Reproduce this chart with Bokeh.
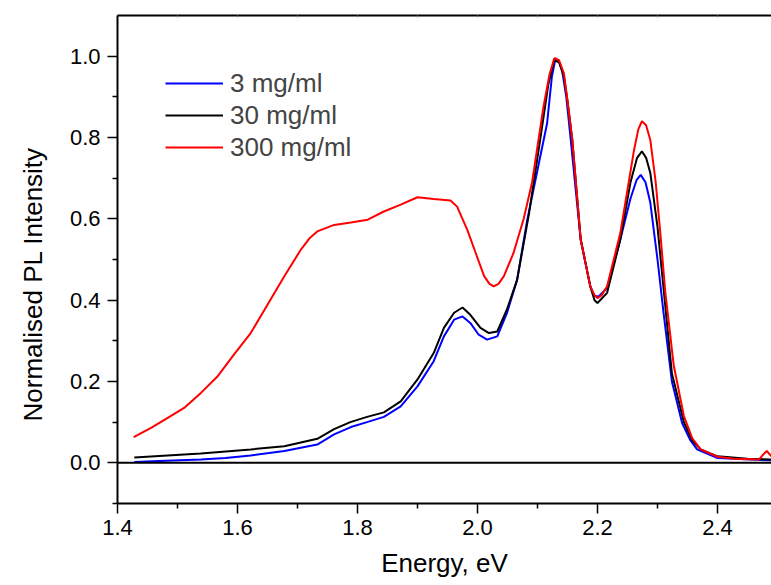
from bokeh.plotting import figure
from bokeh.models import (Range1d, LinearAxis, FixedTicker, NumeralTickFormatter,
                          Span, Legend, LegendItem, Title)
from bokeh.embed import file_html
from bokeh.resources import INLINE

# ---- data ----
energy_3 = [1.428, 1.48, 1.539, 1.58, 1.622, 1.678, 1.733, 1.761, 1.789, 1.816,
            1.844, 1.872, 1.900, 1.927, 1.944, 1.961, 1.975, 1.988, 2.002, 2.016,
            2.033, 2.049, 2.066, 2.083, 2.100, 2.116, 2.124, 2.130, 2.136, 2.141,
            2.148, 2.155, 2.172, 2.188, 2.195, 2.202, 2.216, 2.238, 2.255, 2.265,
            2.272, 2.280, 2.288, 2.300, 2.310, 2.324, 2.341, 2.355, 2.366, 2.400,
            2.455, 2.490]
pl_3 = [0.002, 0.005, 0.008, 0.012, 0.018, 0.029, 0.045, 0.070, 0.088, 0.100,
        0.113, 0.139, 0.188, 0.250, 0.311, 0.352, 0.360, 0.344, 0.315, 0.303,
        0.311, 0.368, 0.450, 0.598, 0.720, 0.835, 0.950, 0.995, 0.985, 0.965,
        0.900, 0.800, 0.549, 0.434, 0.410, 0.409, 0.430, 0.549, 0.650, 0.695,
        0.708, 0.690, 0.640, 0.500, 0.370, 0.200, 0.098, 0.055, 0.033, 0.012,
        0.008, 0.006]

energy_30 = [1.428, 1.539, 1.622, 1.678, 1.733, 1.761, 1.788, 1.816, 1.844, 1.872,
             1.900, 1.927, 1.944, 1.961, 1.975, 1.988, 2.005, 2.019, 2.033, 2.049,
             2.066, 2.086, 2.105, 2.118, 2.128, 2.136, 2.144, 2.150, 2.158, 2.172,
             2.188, 2.195, 2.200, 2.216, 2.238, 2.255, 2.266, 2.274, 2.281, 2.288,
             2.300, 2.310, 2.324, 2.344, 2.358, 2.372, 2.400, 2.450, 2.490]
pl_30 = [0.013, 0.023, 0.033, 0.041, 0.059, 0.083, 0.100, 0.113, 0.124, 0.151,
         0.205, 0.270, 0.332, 0.369, 0.382, 0.364, 0.332, 0.319, 0.323, 0.377,
         0.450, 0.614, 0.800, 0.930, 0.990, 0.985, 0.950, 0.890, 0.794, 0.549,
         0.434, 0.400, 0.393, 0.418, 0.549, 0.690, 0.750, 0.766, 0.750, 0.713,
         0.580, 0.430, 0.220, 0.100, 0.055, 0.033, 0.016, 0.010, 0.008]

energy_300 = [1.427, 1.456, 1.483, 1.511, 1.539, 1.567, 1.594, 1.622, 1.650, 1.678,
              1.706, 1.720, 1.733, 1.761, 1.789, 1.817, 1.844, 1.872, 1.900, 1.927,
              1.955, 1.966, 1.983, 1.997, 2.011, 2.020, 2.027, 2.035, 2.044, 2.060,
              2.077, 2.091, 2.110, 2.120, 2.128, 2.136, 2.144, 2.150, 2.158, 2.172,
              2.188, 2.195, 2.200, 2.207, 2.216, 2.238, 2.261, 2.268, 2.274, 2.281,
              2.288, 2.297, 2.305, 2.313, 2.327, 2.344, 2.358, 2.372, 2.400, 2.427,
              2.469, 2.476, 2.482, 2.490]
pl_300 = [0.063, 0.086, 0.110, 0.135, 0.172, 0.213, 0.266, 0.319, 0.389, 0.459,
          0.525, 0.552, 0.569, 0.585, 0.591, 0.598, 0.618, 0.635, 0.653, 0.649,
          0.645, 0.630, 0.573, 0.516, 0.459, 0.440, 0.434, 0.440, 0.459, 0.516,
          0.600, 0.690, 0.876, 0.955, 0.995, 0.990, 0.958, 0.890, 0.794, 0.549,
          0.434, 0.412, 0.405, 0.412, 0.434, 0.565, 0.770, 0.820, 0.840, 0.830,
          0.794, 0.690, 0.560, 0.420, 0.240, 0.115, 0.060, 0.033, 0.015, 0.010,
          0.008, 0.020, 0.029, 0.016]

series_labels = ["3 mg/ml", "30 mg/ml", "300 mg/ml"]
series_colors = ["#0000ff", "#000000", "#ff0000"]
x_ticks = [1.4, 1.6, 1.8, 2.0, 2.2, 2.4]
y_ticks = [0.0, 0.2, 0.4, 0.6, 0.8, 1.0]
x_title = "Energy, eV"
y_title = "Normalised PL Intensity"

FONT = "Liberation Sans"

p = figure(width=771, height=585, output_backend="svg", toolbar_location=None,
           x_range=Range1d(1.4, 2.49), y_range=Range1d(-0.1, 1.1),
           x_axis_location=None, y_axis_location=None,
           min_border_left=117, min_border_right=0, min_border_top=15,
           min_border_bottom=82)
p.outline_line_color = None
p.xgrid.visible = False
p.ygrid.visible = False
p.background_fill_color = "white"
p.border_fill_color = "white"


def style_axis(ax):
    ax.axis_line_width = 2
    ax.axis_line_color = "black"
    ax.major_tick_line_width = 1.5
    ax.minor_tick_line_width = 1.5
    ax.major_tick_line_color = "black"
    ax.minor_tick_line_color = "black"
    ax.major_tick_in = 0
    ax.major_tick_out = 10
    ax.minor_tick_in = 0
    ax.minor_tick_out = 5
    ax.major_label_text_font = FONT
    ax.major_label_text_font_size = "22px"
    ax.major_label_text_color = "black"
    ax.axis_label_text_font = FONT
    ax.axis_label_text_font_size = "26px"
    ax.axis_label_text_font_style = "normal"
    ax.axis_label_text_color = "black"
    ax.formatter = NumeralTickFormatter(format="0.0")


xax = LinearAxis(axis_label=x_title,
                 ticker=FixedTicker(ticks=x_ticks, minor_ticks=[1.5, 1.7, 1.9, 2.1, 2.3]))
style_axis(xax)
xax.major_label_standoff = 6
xax.axis_label_standoff = 10
p.add_layout(xax, "below")

yax = LinearAxis(ticker=FixedTicker(ticks=y_ticks, minor_ticks=[-0.1, 0.1, 0.3, 0.5, 0.7, 0.9]))
style_axis(yax)
yax.major_label_standoff = 7
p.add_layout(yax, "left")

# y-axis title, placed a little below the frame centre as in the original
ytitle = Title(text=y_title, align="left", offset=82, vertical_align="top",
               standoff=33, text_font=FONT, text_font_size="26px",
               text_font_style="normal", text_color="black")
p.add_layout(ytitle, "left")

top = LinearAxis(ticker=FixedTicker(ticks=[1.4, 1.5, 1.6, 1.7, 1.8, 1.9, 2.0, 2.1, 2.2, 2.3, 2.4]))
top.axis_line_width = 2
top.major_tick_in = 2
top.major_tick_out = 0
top.major_tick_line_color = "#888888"
top.minor_tick_line_color = None
top.major_label_text_font_size = "0px"
top.major_label_text_color = None
p.add_layout(top, "above")

p.add_layout(Span(location=0, dimension="width", line_color="black", line_width=2))

r3 = p.line(energy_3, pl_3, line_color=series_colors[0], line_width=2)
r30 = p.line(energy_30, pl_30, line_color=series_colors[1], line_width=2)
r300 = p.line(energy_300, pl_300, line_color=series_colors[2], line_width=2)

legend = Legend(items=[LegendItem(label=series_labels[0], renderers=[r3]),
                       LegendItem(label=series_labels[1], renderers=[r30]),
                       LegendItem(label=series_labels[2], renderers=[r300])],
                location=(48, 340))
legend.border_line_color = None
legend.background_fill_alpha = 0
legend.label_text_font = FONT
legend.label_text_font_size = "26px"
legend.glyph_width = 58
legend.glyph_height = 32
legend.label_height = 32
legend.label_standoff = 7
legend.spacing = 0
legend.padding = 0
legend.margin = 0
p.add_layout(legend)

open("out.html", "w").write(file_html(p, INLINE))
